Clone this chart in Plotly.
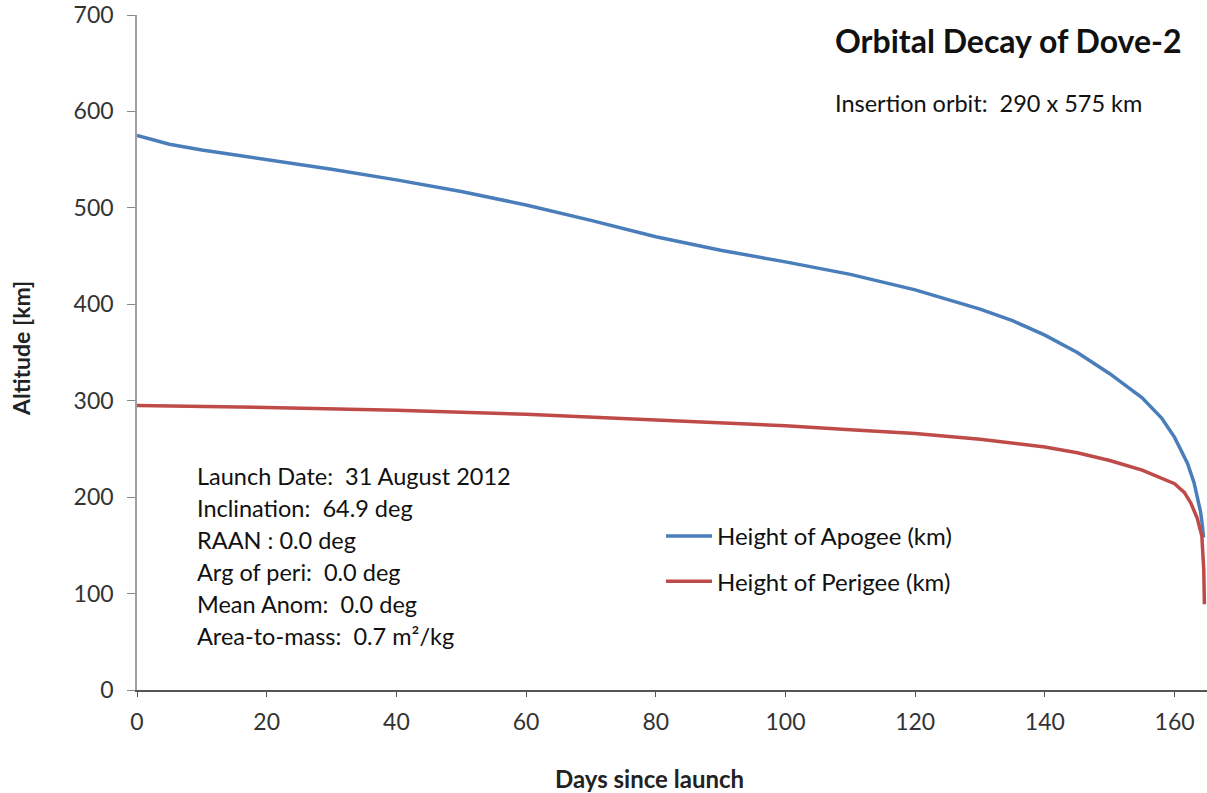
import plotly.graph_objects as go

# ---- data ----
apogee_days = [0, 5, 10, 20, 30, 40, 50, 60, 70, 80, 90, 100, 110, 120, 130, 135, 140, 145, 150, 155, 158, 160, 162, 163, 164, 164.3, 164.45]
apogee_km = [575, 566, 560, 550, 540, 529, 517, 503, 487, 470, 456, 444, 431, 415, 395, 383, 368, 350, 328, 303, 282, 262, 235, 215, 185, 170, 158]

perigee_days = [0, 20, 40, 60, 80, 100, 110, 120, 130, 140, 145, 150, 155, 158, 160, 161.5, 162.5, 163.5, 164.2, 164.5, 164.6]
perigee_km = [295, 293, 290, 286, 280, 274, 270, 266, 260, 252, 246, 238, 228, 220, 214, 205, 194, 178, 160, 125, 89]

series_names = ["Height of Apogee (km)", "Height of Perigee (km)"]
x_ticks = [0, 20, 40, 60, 80, 100, 120, 140, 160]
y_ticks = [0, 100, 200, 300, 400, 500, 600, 700]

title_text = "Orbital Decay of Dove-2"
insertion_text = "Insertion orbit:  290 x 575 km"
x_title = "Days since launch"
y_title = "Altitude [km]"
info_lines = [
    "Launch Date:  31 August 2012",
    "Inclination:  64.9 deg",
    "RAAN : 0.0 deg",
    "Arg of peri:  0.0 deg",
    "Mean Anom:  0.0 deg",
    "Area-to-mass:  0.7 m\u00b2/kg",
]

FONT = "Lato"
BLUE = "#4A7EBB"
RED = "#BE4B48"

# plot area in page coords: x 137..1207, y 15..690
PX0, PX1, PY0, PY1 = 137, 1207, 15, 690


def px(x):
    return (x - PX0) / (PX1 - PX0)


def py(y):
    return (PY1 - y) / (PY1 - PY0)


fig = go.Figure()
fig.add_trace(go.Scatter(x=apogee_days, y=apogee_km, mode="lines", name=series_names[0],
                         line=dict(color=BLUE, width=3.5), legendgroup="a"))
fig.add_trace(go.Scatter(x=perigee_days, y=perigee_km, mode="lines", name=series_names[1],
                         line=dict(color=RED, width=3.5), legendgroup="p"))

annos = []
annos.append(dict(xref="paper", yref="paper", x=px(833), y=py(40),
                  text="<b>" + title_text + "</b>", showarrow=False, xanchor="left", yanchor="middle",
                  font=dict(family=FONT, size=32, color="#111111")))
annos.append(dict(xref="paper", yref="paper", x=px(833), y=py(103),
                  text=insertion_text, showarrow=False, xanchor="left", yanchor="middle",
                  font=dict(family=FONT, size=23.5, color="#111111")))
for i, line in enumerate(info_lines):
    yp = 476 + 32 * i
    annos.append(dict(xref="paper", yref="paper", x=px(195), y=py(yp),
                      text=line, showarrow=False, xanchor="left", yanchor="middle",
                      font=dict(family=FONT, size=23.5, color="#111111")))
# axis titles
annos.append(dict(xref="paper", yref="paper", x=px(649), y=py(778),
                  text="<b>" + x_title + "</b>", showarrow=False, xanchor="center", yanchor="middle",
                  font=dict(family=FONT, size=24, color="#222222")))
annos.append(dict(xref="paper", yref="paper", x=px(21), y=py(349), textangle=-90,
                  text="<b>" + y_title + "</b>", showarrow=False, xanchor="center", yanchor="middle",
                  font=dict(family=FONT, size=23, color="#222222")))

fig.update_layout(
    width=1207, height=793,
    margin=dict(l=137, r=0, t=15, b=103),
    paper_bgcolor="white", plot_bgcolor="white",
    font=dict(family=FONT, color="#222222"),
    showlegend=True,
    legend=dict(x=px(661), y=py(514), xanchor="left", yanchor="top",
                font=dict(family=FONT, size=24, color="#111111"), bgcolor="rgba(0,0,0,0)",
                tracegroupgap=11, itemwidth=46),
    annotations=annos,
    xaxis=dict(range=[0, 165], tickvals=x_ticks, showgrid=False, zeroline=False,
               showline=True, linecolor="#555555", linewidth=1.5,
               ticks="outside", ticklen=5, tickcolor="#555555",
               tickfont=dict(family=FONT, size=23, color="#333333"), ticklabelstandoff=6,
               ticklabeloverflow="allow"),
    yaxis=dict(range=[0, 700], tickvals=y_ticks, showgrid=False, zeroline=False,
               showline=True, linecolor="#A0A0A0", linewidth=1.5,
               ticks="outside", ticklen=8, tickcolor="#888888",
               tickfont=dict(family=FONT, size=23, color="#333333"), ticklabelstandoff=9,
               ticklabeloverflow="allow"),
)

fig.write_html("out.html", config={"displayModeBar": False},
               post_script="document.body.style.margin='0';document.body.style.overflow='hidden';")
